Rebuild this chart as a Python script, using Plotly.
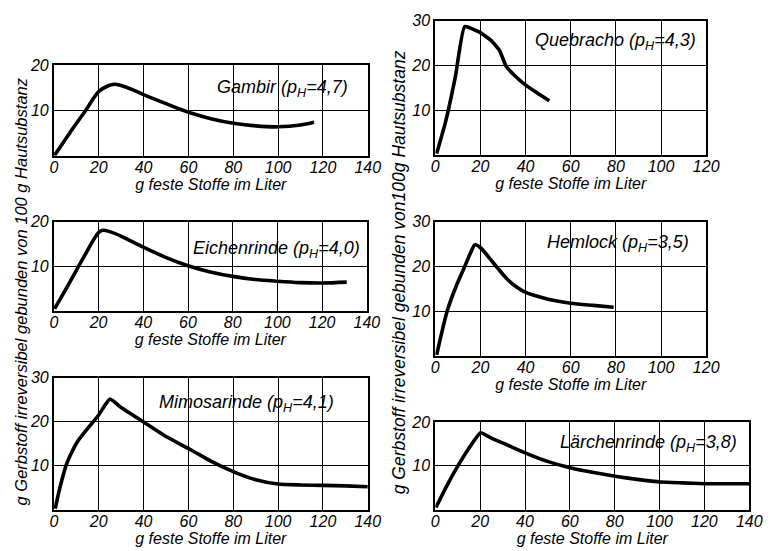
import plotly.graph_objects as go

# --- data: g tanning agent bound irreversibly per 100 g hide substance
# versus g solids per litre, one curve per tanning material ---
gambir_x = [0.3, 7, 14, 20, 24, 27, 30, 35, 40, 50, 60, 70, 80, 90, 100, 110, 116]
gambir_y = [0.1, 5.0, 9.9, 14.2, 15.4, 15.8, 15.5, 14.6, 13.5, 11.5, 9.6, 8.2, 7.2, 6.6, 6.4, 6.8, 7.4]

quebracho_x = [0.6, 4.6, 9.0, 13.0, 19.8, 24.9, 28.5, 31.4, 35.0, 39.3, 45.0, 50.5]
quebracho_y = [0.3, 7.5, 17.8, 28.7, 27.4, 25.5, 23.3, 19.8, 17.8, 15.9, 13.9, 12.1]

eichen_x = [0.3, 5, 10, 15, 20, 22, 25, 30, 40, 50, 60, 70, 80, 90, 100, 110, 120, 131]
eichen_y = [0.4, 4.5, 9.0, 13.5, 17.6, 18.1, 17.8, 16.8, 14.3, 12.0, 10.1, 8.7, 7.7, 7.0, 6.6, 6.3, 6.2, 6.4]

hemlock_x = [0.6, 5.3, 9, 12.6, 16, 17.6, 20, 24, 28, 32, 36, 40, 50, 60, 70, 79]
hemlock_y = [0.2, 10.1, 15.3, 19.5, 23.5, 24.9, 24.2, 21.9, 19.4, 17.1, 15.4, 14.2, 12.7, 11.8, 11.3, 10.9]

mimosa_x = [0.6, 2, 3.5, 5.4, 8, 11, 15, 20, 25, 30, 40, 50, 61, 70, 81, 90, 100, 110, 120, 130, 140]
mimosa_y = [0.2, 3.5, 6.6, 10.0, 13.1, 15.8, 18.4, 21.5, 25.1, 23.2, 19.9, 16.6, 13.6, 11.0, 8.4, 6.8, 5.8, 5.6, 5.5, 5.4, 5.2]

laerchen_x = [0.3, 5, 10, 15, 20.2, 25, 30, 40.3, 50, 60.6, 70, 80.2, 90, 100.6, 110, 120, 130, 140]
laerchen_y = [0.5, 5.3, 9.9, 14.0, 17.5, 16.3, 15.2, 12.9, 11.0, 9.5, 8.5, 7.6, 6.9, 6.3, 6.1, 5.9, 5.9, 5.9]

names = [
    "Gambir (p<sub>H</sub>=4,7)",
    "Quebracho (p<sub>H</sub>=4,3)",
    "Eichenrinde (p<sub>H</sub>=4,0)",
    "Hemlock (p<sub>H</sub>=3,5)",
    "Mimosarinde (p<sub>H</sub>=4,1)",
    "Lärchenrinde (p<sub>H</sub>=3,8)",
]
series_x = [gambir_x, quebracho_x, eichen_x, hemlock_x, mimosa_x, laerchen_x]
series_y = [gambir_y, quebracho_y, eichen_y, hemlock_y, mimosa_y, laerchen_y]
x_max = [140, 120, 140, 120, 140, 140]
y_max = [20, 30, 20, 30, 30, 20]
y_ticks = [[10, 20], [10, 20, 30], [10, 20], [10, 20, 30], [10, 20, 30], [10, 20]]
# label position for each panel, in data units (centre of text)
label_x = [102, 80, 99.5, 81, 86, 95]
label_y = [14.8, 25.3, 13.8, 25.2, 24.0, 15.0]
smooth = [0.9, 0.4, 0.9, 0.8, 0.5, 0.35]

x_title = "g feste Stoffe im Liter"
y_title_left = "g Gerbstoff irreversibel gebunden von 100 g Hautsubstanz"
y_title_right = "g Gerbstoff irreversibel gebunden von100g Hautsubstanz"

W, H = 773, 551
# plot frames in pixels: left, right, top, bottom
frames = [
    (51, 372, 58, 150),
    (441, 718, 13, 149),
    (51, 371, 217, 307),
    (441, 718, 217, 353),
    (51, 372, 375, 509),
    (441, 762, 420, 509),
]

FONT = "Liberation Sans, Arial, sans-serif"


def ifont(size):
    return dict(family=FONT, size=size, style="italic", color="black")


fig = go.Figure()
layout = dict(
    width=W, height=H,
    margin=dict(l=0, r=0, t=0, b=0),
    paper_bgcolor="white", plot_bgcolor="white",
    showlegend=False,
    font=ifont(16),
)
annotations = []

for i in range(6):
    n = "" if i == 0 else str(i + 1)
    l, r, t, b = frames[i]
    fig.add_trace(go.Scatter(
        x=series_x[i], y=series_y[i], mode="lines",
        line=dict(color="black", width=3.6, shape="spline", smoothing=smooth[i]),
        xaxis="x" + n, yaxis="y" + n, hoverinfo="skip",
    ))
    common = dict(
        showgrid=True, gridcolor="black", gridwidth=1,
        showline=True, linecolor="black", linewidth=2, mirror=True,
        zeroline=False, ticks="", fixedrange=True,
        tickfont=ifont(16),
    )
    layout["xaxis" + n] = dict(
        common, domain=[l / W, r / W], anchor="y" + n,
        range=[0, x_max[i]], tickvals=list(range(0, x_max[i] + 1, 20)),
        ticklabelstandoff=-4,
        title=dict(text=x_title, standoff=1, font=ifont(16)),
    )
    layout["yaxis" + n] = dict(
        common, domain=[1 - b / H, 1 - t / H], anchor="x" + n,
        range=[0, y_max[i]], tickvals=y_ticks[i],
    )
    annotations.append(dict(
        x=label_x[i], y=label_y[i], xref="x" + n, yref="y" + n,
        xanchor="center", yanchor="middle",
        text=names[i], showarrow=False, font=ifont(18),
    ))

annotations.append(dict(
    x=17 / W, y=1 - 288 / H, xref="paper", yref="paper",
    xanchor="center", yanchor="middle",
    text=y_title_left, textangle=-90, showarrow=False, font=ifont(16.5),
))
annotations.append(dict(
    x=404 / W, y=1 - 268 / H, xref="paper", yref="paper",
    xanchor="center", yanchor="middle",
    text=y_title_right, textangle=-90, showarrow=False, font=ifont(17.5),
))
layout["annotations"] = annotations

fig.update_layout(**layout)
fig.write_html("out.html")
